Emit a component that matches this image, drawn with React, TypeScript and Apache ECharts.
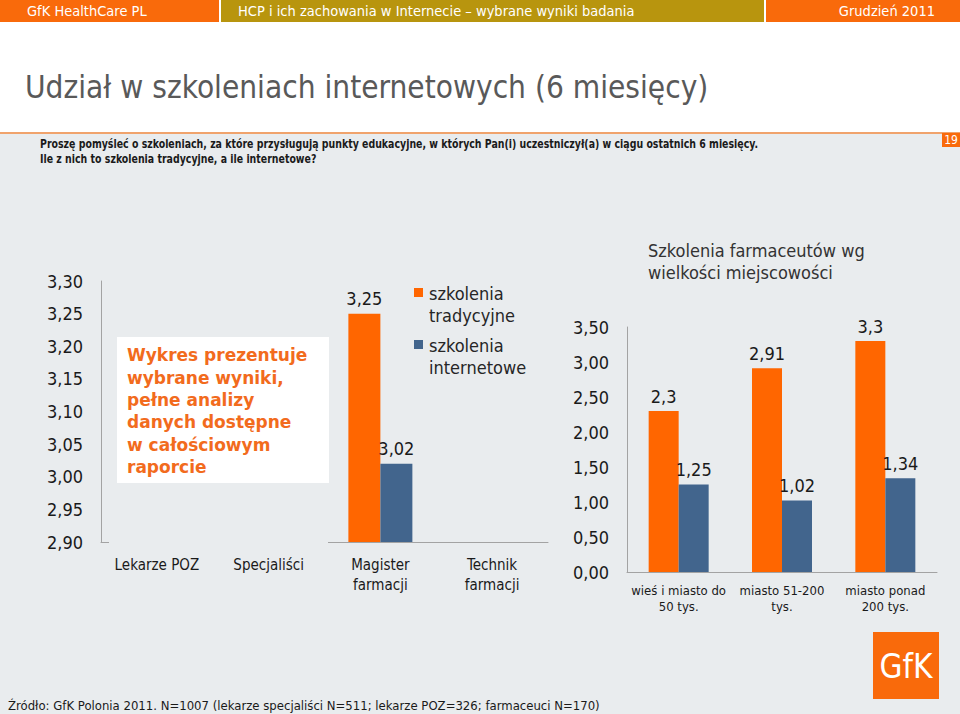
import React, { useEffect, useRef } from "react";
import * as echarts from "echarts";

// ---- Data ----
const seriesNames = ["szkolenia tradycyjne", "szkolenia internetowe"];
const leftCategories = ["Lekarze POZ", "Specjaliści", "Magister\nfarmacji", "Technik\nfarmacji"];
const leftTraditional: (number | null)[] = [null, null, 3.25, null];
const leftOnline: (number | null)[] = [null, null, 3.02, null];
const leftAxisMin = 2.9;
const leftAxisMax = 3.3;
const leftAxisStep = 0.05;

const rightCategories = ["wieś i miasto do\n50 tys.", "miasto 51-200\ntys.", "miasto ponad\n200 tys."];
const rightTraditional = [2.3, 2.91, 3.3];
const rightOnline = [1.25, 1.02, 1.34];
const rightAxisMin = 0;
const rightAxisMax = 3.5;
const rightAxisStep = 0.5;

// ---- Texts ----
const headerLeft = "GfK HealthCare PL";
const headerMid = "HCP i ich zachowania w Internecie – wybrane wyniki badania";
const headerRight = "Grudzień 2011";
const mainTitle = "Udział w szkoleniach internetowych (6 miesięcy)";
const question1 = "Proszę pomyśleć o szkoleniach, za które przysługują punkty edukacyjne, w których Pan(i) uczestniczył(a) w ciągu ostatnich 6 miesięcy.";
const question2 = "Ile z nich to szkolenia tradycyjne, a ile internetowe?";
const pageNo = "19";
const boxText = "Wykres prezentuje\nwybrane wyniki,\npełne analizy\ndanych dostępne\nw całościowym\nraporcie";
const rightTitle = "Szkolenia farmaceutów wg\nwielkości miejscowości";
const footer = "Źródło: GfK Polonia 2011. N=1007 (lekarze specjaliści N=511; lekarze POZ=326; farmaceuci N=170)";
const logoText = "GfK";

// ---- Styles ----
const ORANGE = "#ff6600";
const BLUE = "#42658d";
const HEAD_ORANGE = "#f96a0b";
const OLIVE = "#b8950e";
const BG = "#e9ecee";
const FONT = '"DejaVu Sans Condensed", "DejaVu Sans", sans-serif';
const FONT_WIDE = '"DejaVu Sans", sans-serif';
const AXIS_COLOR = "#a3a3a3";

const commaFixed = (v: number) => v.toFixed(2).replace(".", ",");
const commaRaw = (v: number) => String(v).replace(".", ",");

export default function App() {
  const ref = useRef<HTMLDivElement>(null);

  useEffect(() => {
    if (!ref.current) return;
    const chart = echarts.init(ref.current, undefined, { renderer: "svg" });

    const valueLabel = (fmt: (v: number) => string) => ({
      show: true,
      position: "top" as const,
      distance: 6,
      fontFamily: FONT,
      fontSize: 18,
      color: "#1a1a1a",
      formatter: (p: any) => fmt(p.value),
    });

    const yAxisCommon = {
      type: "value" as const,
      axisLine: { show: true, lineStyle: { color: AXIS_COLOR, width: 1 } },
      axisTick: { show: false },
      splitLine: { show: false },
      axisLabel: {
        fontFamily: FONT,
        fontSize: 18,
        color: "#1a1a1a",
        margin: 18,
      },
    };

    chart.setOption({
      animation: false,
      backgroundColor: BG,
      grid: [
        { left: 101, top: 281, width: 447, height: 261, containLabel: false },
        { left: 627, top: 327, width: 310, height: 245, containLabel: false },
      ],
      xAxis: [
        {
          type: "category",
          gridIndex: 0,
          data: leftCategories,
          axisLine: { show: true, lineStyle: { color: AXIS_COLOR } },
          axisTick: { show: false },
          axisLabel: {
            fontFamily: FONT,
            fontSize: 15,
            color: "#1a1a1a",
            margin: 13,
            lineHeight: 20,
            interval: 0,
          },
        },
        {
          type: "category",
          gridIndex: 1,
          data: rightCategories,
          axisLine: { show: true, lineStyle: { color: AXIS_COLOR } },
          axisTick: { show: false },
          axisLabel: {
            fontFamily: FONT,
            fontSize: 13,
            color: "#1a1a1a",
            margin: 10,
            lineHeight: 16,
            interval: 0,
          },
        },
      ],
      yAxis: [
        {
          ...yAxisCommon,
          gridIndex: 0,
          min: leftAxisMin,
          max: leftAxisMax,
          interval: leftAxisStep,
          axisLabel: { ...yAxisCommon.axisLabel, formatter: (v: number) => commaFixed(v) },
        },
        {
          ...yAxisCommon,
          gridIndex: 1,
          min: rightAxisMin,
          max: rightAxisMax,
          interval: rightAxisStep,
          axisLabel: { ...yAxisCommon.axisLabel, formatter: (v: number) => commaFixed(v) },
        },
      ],
      series: [
        {
          name: seriesNames[0],
          type: "bar",
          xAxisIndex: 0,
          yAxisIndex: 0,
          data: leftTraditional,
          barWidth: 32,
          barGap: "0%",
          itemStyle: { color: ORANGE },
          label: valueLabel(commaFixed),
        },
        {
          name: seriesNames[1],
          type: "bar",
          xAxisIndex: 0,
          yAxisIndex: 0,
          data: leftOnline,
          barWidth: 32,
          barGap: "0%",
          itemStyle: { color: BLUE },
          label: valueLabel(commaFixed),
        },
        {
          name: seriesNames[0],
          type: "bar",
          xAxisIndex: 1,
          yAxisIndex: 1,
          data: rightTraditional,
          barWidth: 30,
          barGap: "0%",
          itemStyle: { color: ORANGE },
          label: valueLabel(commaRaw),
        },
        {
          name: seriesNames[1],
          type: "bar",
          xAxisIndex: 1,
          yAxisIndex: 1,
          data: rightOnline,
          barWidth: 30,
          barGap: "0%",
          itemStyle: { color: BLUE },
          label: valueLabel(commaRaw),
        },
      ],
      graphic: [
        // top white area
        { type: "rect", z: 50, shape: { x: 0, y: 0, width: 960, height: 132 }, style: { fill: "#ffffff" } },
        // header bars
        { type: "rect", z: 51, shape: { x: 0, y: 0, width: 219, height: 22 }, style: { fill: HEAD_ORANGE } },
        { type: "rect", z: 51, shape: { x: 221, y: 0, width: 543, height: 22 }, style: { fill: OLIVE } },
        { type: "rect", z: 51, shape: { x: 766, y: 0, width: 194, height: 22 }, style: { fill: HEAD_ORANGE } },
        { type: "text", z: 52, x: 27, y: 11, style: { text: headerLeft, fill: "#fff", font: `14.5px ${FONT}`, verticalAlign: "middle" } },
        { type: "text", z: 52, x: 238, y: 11, style: { text: headerMid, fill: "#fff", font: `14.5px ${FONT}`, verticalAlign: "middle" } },
        { type: "text", z: 52, x: 935, y: 11, style: { text: headerRight, fill: "#fff", font: `14.5px ${FONT}`, align: "right", verticalAlign: "middle" } },
        // main title
        { type: "text", z: 52, x: 25, y: 87, style: { text: mainTitle, fill: "#595959", font: `31.3px ${FONT}`, verticalAlign: "middle" } },
        // orange rule
        { type: "rect", z: 52, shape: { x: 0, y: 132, width: 960, height: 2 }, style: { fill: "#f0a36c" } },
        // page number
        { type: "rect", z: 52, shape: { x: 942, y: 133, width: 18, height: 14 }, style: { fill: HEAD_ORANGE } },
        { type: "text", z: 53, x: 951, y: 140, style: { text: pageNo, fill: "#fff", font: `12px ${FONT}`, align: "center", verticalAlign: "middle" } },
        // question
        { type: "text", z: 52, x: 40, y: 144, scaleX: 0.91, style: { text: question1, fill: "#1a1a1a", font: `bold 11.5px ${FONT}`, verticalAlign: "middle" } },
        { type: "text", z: 52, x: 40, y: 159, scaleX: 0.91, style: { text: question2, fill: "#1a1a1a", font: `bold 11.5px ${FONT}`, verticalAlign: "middle" } },
        // cover part of left x axis line
        { type: "rect", z: 100, shape: { x: 109, y: 538, width: 219, height: 8 }, style: { fill: BG } },
        // white note box
        { type: "rect", z: 100, shape: { x: 117, y: 337, width: 212, height: 146 }, style: { fill: "#ffffff" } },
        {
          type: "text", z: 101, x: 127, y: 344,
          style: { text: boxText, fill: "#f26b1d", font: `bold 17px ${FONT_WIDE}`, lineHeight: 22.4, verticalAlign: "top" },
        },
        // legend
        { type: "rect", z: 100, shape: { x: 414, y: 288, width: 9, height: 9 }, style: { fill: ORANGE } },
        { type: "text", z: 100, x: 429, y: 282, style: { text: "szkolenia\ntradycyjne", fill: "#262626", font: `18px ${FONT}`, lineHeight: 22, verticalAlign: "top" } },
        { type: "rect", z: 100, shape: { x: 414, y: 340, width: 9, height: 9 }, style: { fill: BLUE } },
        { type: "text", z: 100, x: 429, y: 334, style: { text: "szkolenia\ninternetowe", fill: "#262626", font: `18px ${FONT}`, lineHeight: 22, verticalAlign: "top" } },
        // right chart title
        { type: "text", z: 100, x: 648, y: 239, style: { text: rightTitle, fill: "#333333", font: `18px ${FONT}`, lineHeight: 22, verticalAlign: "top" } },
        // logo
        { type: "rect", z: 100, shape: { x: 873, y: 632, width: 66, height: 67 }, style: { fill: HEAD_ORANGE } },
        { type: "text", z: 101, x: 906, y: 666, style: { text: logoText, fill: "#fff", font: `33px ${FONT}`, align: "center", verticalAlign: "middle" } },
        // footer
        { type: "text", z: 100, x: 8, y: 705, style: { text: footer, fill: "#1a1a1a", font: `13px ${FONT}`, verticalAlign: "middle" } },
      ],
    });

    return () => chart.dispose();
  }, []);

  return (
    <div
      ref={ref}
      style={{ position: "absolute", left: 0, top: 0, width: 960, height: 714 }}
    />
  );
}
